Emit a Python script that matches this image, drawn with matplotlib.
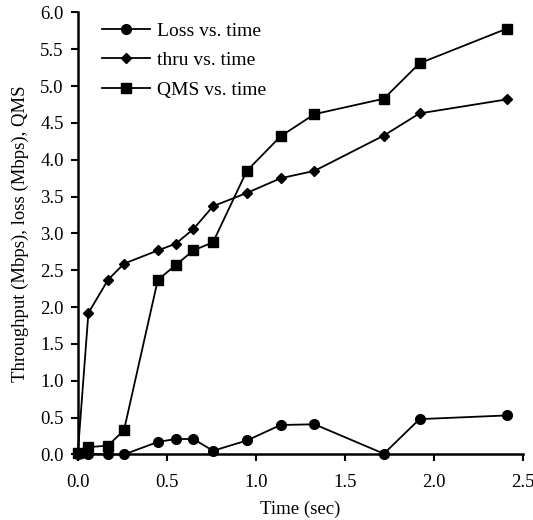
import matplotlib
matplotlib.use("Agg")
import matplotlib.pyplot as plt

# values
time = [0.0, 0.06, 0.17, 0.26, 0.45, 0.55, 0.65, 0.76, 0.95, 1.14, 1.33, 1.72, 1.92, 2.41]
loss = [0.0, 0.01, 0.0, 0.0, 0.17, 0.21, 0.21, 0.05, 0.19, 0.40, 0.41, 0.01, 0.48, 0.53]
thru = [0.0, 1.92, 2.37, 2.59, 2.77, 2.86, 3.06, 3.37, 3.55, 3.75, 3.85, 4.33, 4.63, 4.82]
qms = [0.02, 0.10, 0.12, 0.33, 2.37, 2.57, 2.77, 2.88, 3.85, 4.32, 4.62, 4.83, 5.31, 5.78]

xticks = [0.0, 0.5, 1.0, 1.5, 2.0, 2.5]
yticks = [0.0, 0.5, 1.0, 1.5, 2.0, 2.5, 3.0, 3.5, 4.0, 4.5, 5.0, 5.5, 6.0]

plt.rcParams["font.family"] = ["Liberation Serif", "DejaVu Serif"]
plt.rcParams["font.size"] = 13.5

fig = plt.figure(figsize=(5.33, 5.2), dpi=100)
ax = fig.add_axes([0.1458, 0.126, 0.835, 0.850])

ax.plot(time, loss, "-o", color="black", lw=1.3, ms=7, label="Loss vs. time", clip_on=False, zorder=3)
ax.plot(time, thru, "-D", color="black", lw=1.3, ms=5, label="thru vs. time", clip_on=False, zorder=3)
ax.plot(time, qms, "-s", color="black", lw=1.3, ms=7, label="QMS vs. time", clip_on=False, zorder=3)

ax.set_xlim(0, 2.5)
ax.set_ylim(0, 6.0)
ax.set_xticks(xticks)
ax.set_yticks(yticks)
ax.set_xticklabels([f"{v:.1f}" for v in xticks])
ax.set_yticklabels([f"{v:.1f}" for v in yticks])

for s in ("top", "right"):
    ax.spines[s].set_visible(False)
for s in ("left", "bottom"):
    ax.spines[s].set_linewidth(1.8)
ax.tick_params(direction="out", length=5, width=1.5)
ax.tick_params(axis="x", pad=9)
ax.tick_params(axis="y", pad=5)

ax.set_xlabel("Time (sec)", labelpad=7)
ax.set_ylabel("Throughput (Mbps), loss (Mbps), QMS", labelpad=8)

ax.legend(loc="upper left", bbox_to_anchor=(0.015, 1.018), frameon=False,
          fontsize=14, handlelength=2.45, handletextpad=0.36, labelspacing=0.62)

fig.savefig("out.png", dpi=100)
